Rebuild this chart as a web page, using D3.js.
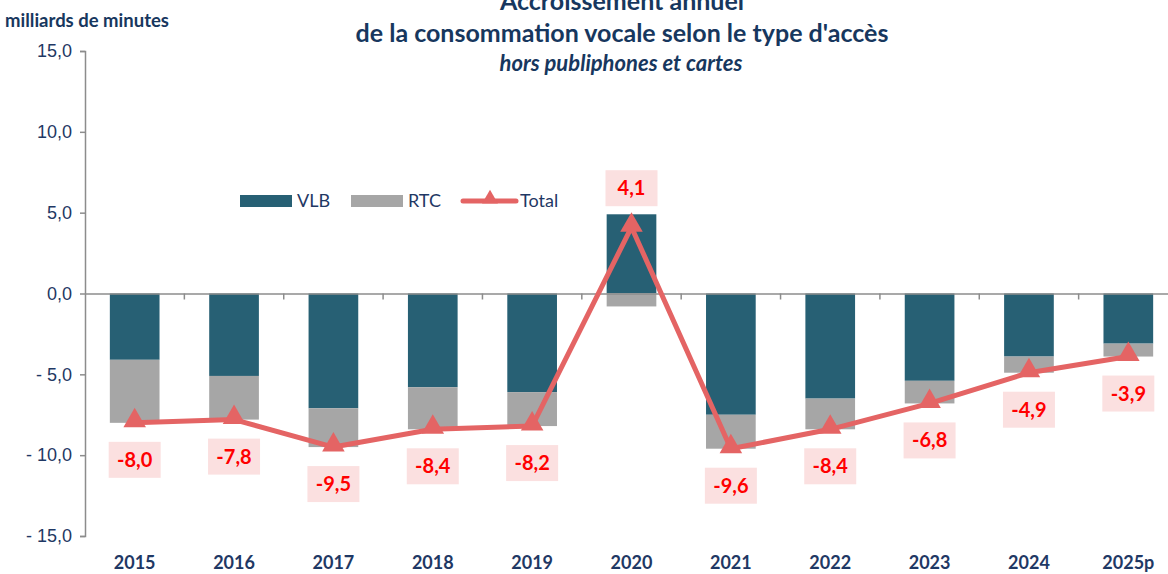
<!DOCTYPE html>
<html>
<head>
<meta charset="utf-8">
<script src="https://d3js.org/d3.v7.min.js"></script>
<style>
    html, body { margin: 0; padding: 0; background: #fff; }
    body { font-family: Lato, "Open Sans", sans-serif; }
    svg text { fill: #1F3864; }
    .axis path, .axis line { stroke: #8c8c8c; stroke-width: 1.5; }
</style>
</head>
<body>
<div id="chart"></div>
<script>
    var years = ["2015", "2016", "2017", "2018", "2019", "2020", "2021", "2022", "2023", "2024", "2025p"];
    var vlb = [-4.1, -5.1, -7.1, -5.8, -6.1, 4.9, -7.5, -6.5, -5.4, -3.9, -3.1];
    var rtc = [-3.9, -2.7, -2.4, -2.6, -2.1, -0.8, -2.1, -1.9, -1.4, -1.0, -0.8];
    var total = [-8.0, -7.8, -9.5, -8.4, -8.2, 4.1, -9.6, -8.4, -6.8, -4.9, -3.9];
    var yTicks = [-15, -10, -5, 0, 5, 10, 15];

    var W = 1168, H = 574;
    var margin = {top: 51, right: 0, bottom: 38, left: 85};
    var plotW = 1093,
        height = H - margin.top - margin.bottom;

    var fmt = function(v) {
        var s = Math.abs(v).toFixed(1).replace(".", ",");
        return v < 0 ? "- " + s : s;
    };
    var fmtLbl = function(v) { return v.toFixed(1).replace(".", ","); };

    var x = d3.scaleBand().domain(years).range([0, plotW]).paddingInner(0.5).paddingOuter(0.25);
    var xb = d3.scaleBand().domain(years).range([0, plotW]);
    var y = d3.scaleLinear().domain([-15, 15]).range([height, 0]);

    var svg = d3.select("#chart").append("svg")
        .attr("width", W).attr("height", H);

    // titles
    svg.append("text").attr("x", 622).attr("y", 10).attr("text-anchor", "middle")
        .style("font-size", "25px").style("font-weight", "bold").style("fill", "#17375E")
        .text("Accroissement annuel");
    svg.append("text").attr("x", 622).attr("y", 42).attr("text-anchor", "middle")
        .style("font-size", "25px").style("font-weight", "bold").style("fill", "#17375E")
        .text("de la consommation vocale selon le type d'accès");
    svg.append("text").attr("x", 621).attr("y", 71).attr("text-anchor", "middle")
        .style("font-size", "22px").style("font-weight", "bold").style("font-style", "italic")
        .style("fill", "#17375E")
        .text("hors publiphones et cartes");
    svg.append("text").attr("x", 5).attr("y", 27)
        .style("font-size", "18.5px").style("font-weight", "bold").style("fill", "#17375E")
        .text("milliards de minutes");

    var g = svg.append("g").attr("transform", "translate(" + margin.left + "," + margin.top + ")");

    // y axis
    var ya = g.append("g").attr("class", "axis")
        .call(d3.axisLeft(y).tickValues(yTicks).tickFormat(fmt).tickSize(5).tickPadding(8));
    ya.selectAll("text").style("font-size", "18px").style("fill", "#1F3864");

    // bars
    g.selectAll(".vlb").data(years).enter().append("rect")
        .attr("x", function(d) { return x(d); })
        .attr("width", x.bandwidth())
        .attr("y", function(d, i) { return y(Math.max(0, vlb[i])); })
        .attr("height", function(d, i) { return Math.abs(y(vlb[i]) - y(0)); })
        .attr("fill", "#276074");

    g.selectAll(".rtc").data(years).enter().append("rect")
        .attr("x", function(d) { return x(d); })
        .attr("width", x.bandwidth())
        .attr("y", function(d, i) { return y(Math.min(0, vlb[i])); })
        .attr("height", function(d, i) { return Math.abs(y(rtc[i]) - y(0)); })
        .attr("fill", "#A6A6A6");

    // x axis at zero
    var xa = g.append("g").attr("class", "axis")
        .attr("transform", "translate(0," + y(0) + ")")
        .call(d3.axisBottom(xb).tickSize(0).tickFormat(""));
    xa.selectAll(".tick").remove();
    xa.selectAll(".bnd").data(years.slice(1)).enter().append("line")
        .attr("x1", function(d) { return xb(d); }).attr("x2", function(d) { return xb(d); })
        .attr("y1", 0).attr("y2", 6).attr("stroke", "#8c8c8c").attr("stroke-width", 1.5);

    // x labels at bottom
    g.selectAll(".xl").data(years).enter().append("text")
        .attr("x", function(d) { return xb(d) + xb.bandwidth() / 2; })
        .attr("y", height + 33)
        .attr("text-anchor", "middle")
        .style("font-size", "18px").style("font-weight", "bold").style("fill", "#1F3864")
        .text(function(d) { return d; });

    // total line
    var cx = function(i) { return xb(years[i]) + xb.bandwidth() / 2; };
    var line = d3.line().x(function(d, i) { return cx(i); }).y(function(d) { return y(d); });
    g.append("path").datum(total).attr("d", line)
        .attr("fill", "none").attr("stroke", "#E46464").attr("stroke-width", 5)
        .attr("stroke-linejoin", "round");
    var tri = d3.symbol().type(d3.symbolTriangle).size(220);
    g.selectAll(".mk").data(total).enter().append("path")
        .attr("d", tri)
        .attr("transform", function(d, i) { return "translate(" + cx(i) + "," + (y(d) - 2) + ")"; })
        .attr("fill", "#E46464");

    // value labels
    var lbl = g.selectAll(".lbl").data(total).enter().append("g")
        .attr("transform", function(d, i) {
            var off = d >= 0 ? -39 : 37;
            return "translate(" + cx(i) + "," + (y(d) + off) + ")";
        });
    lbl.append("rect").attr("x", -26).attr("y", -18).attr("width", 52).attr("height", 36)
        .attr("fill", "#FBE0E0");
    lbl.append("text").attr("text-anchor", "middle").attr("dy", "0.35em")
        .style("font-size", "20px").style("font-weight", "bold").style("fill", "#FF0000")
        .text(function(d) { return fmtLbl(d); });

    // legend
    var lg = svg.append("g");
    lg.append("rect").attr("x", 240).attr("y", 195).attr("width", 52).attr("height", 12).attr("fill", "#276074");
    lg.append("text").attr("x", 297).attr("y", 207).style("font-size", "18px").text("VLB");
    lg.append("rect").attr("x", 351).attr("y", 195).attr("width", 52).attr("height", 12).attr("fill", "#A6A6A6");
    lg.append("text").attr("x", 408).attr("y", 207).style("font-size", "18px").text("RTC");
    lg.append("line").attr("x1", 463).attr("x2", 516).attr("y1", 201).attr("y2", 201)
        .attr("stroke", "#E46464").attr("stroke-width", 5).attr("stroke-linecap", "round");
    lg.append("path").attr("d", d3.symbol().type(d3.symbolTriangle).size(110))
        .attr("transform", "translate(490,199)").attr("fill", "#E46464");
    lg.append("text").attr("x", 520).attr("y", 207).style("font-size", "18px").text("Total");
</script>
</body>
</html>
